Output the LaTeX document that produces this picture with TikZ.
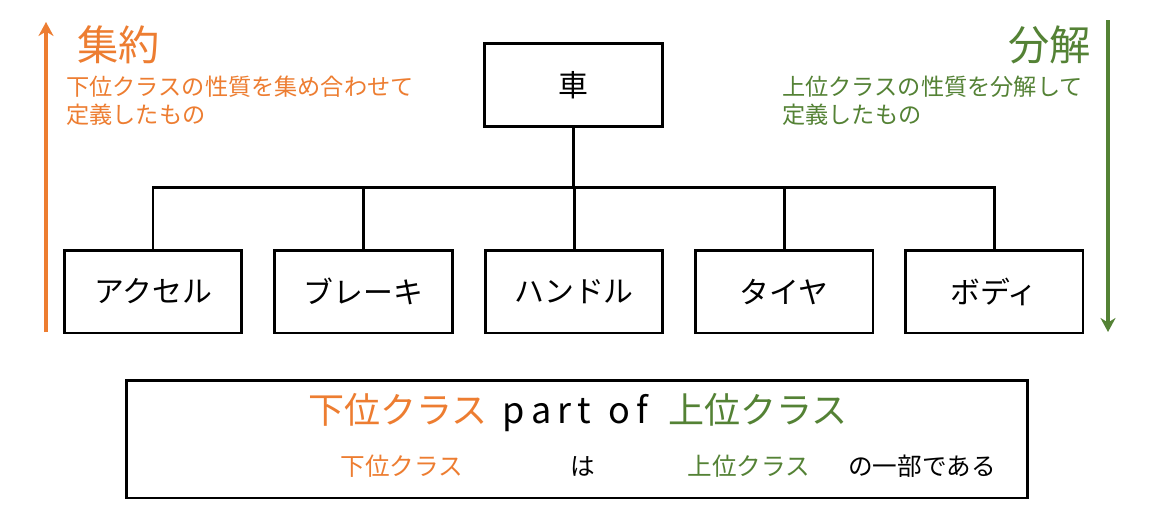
\documentclass[tikz,border=0pt]{standalone}
\usepackage{fontspec}
\setmainfont{Noto Sans CJK JP}
\usetikzlibrary{arrows.meta}
\definecolor{aggr}{HTML}{ED7D31}
\definecolor{deco}{HTML}{548235}
\tikzset{
  box/.style={draw=black, line width=1.7pt, fill=white, minimum width=3.56cm, minimum height=1.66cm, inner sep=0pt, font=\fontsize{17pt}{20pt}\selectfont},
  link/.style={draw=black, line width=1.7pt},
  bigarrow/.style={line width=1.9pt, -{Stealth[length=0.28cm, width=0.3cm]}},
  title/.style={inner sep=0pt, font=\fontsize{23.5pt}{26pt}\selectfont},
  note/.style={inner sep=0pt, align=left, font=\fontsize{13.2pt}{16pt}\selectfont},
  frame/.style={draw=black, line width=1.7pt, minimum width=18.04cm, minimum height=2.36cm, inner sep=0pt},
  big/.style={inner sep=0pt, font=\fontsize{20.5pt}{24pt}\selectfont},
  small/.style={inner sep=0pt, font=\fontsize{14pt}{17pt}\selectfont}
}
\begin{document}
\begin{tikzpicture}[x=0.02cm, y=-0.02cm]
\useasboundingbox[fill=white] (0,0) rectangle (1149,525);
% tree
\node[box] (car) at (573.5,85) {車};
\node[box] (c1) at (153,291.5) {アクセル};
\node[box] (c2) at (363.5,291.5) {ブレーキ};
\node[box] (c3) at (574,291.5) {ハンドル};
\node[box] (c4) at (784,291.5) {タイヤ};
\node[box] (c5) at (994,291.5) {ボディ};
\coordinate (bus) at (573.5,187.5);
\draw[link] (car.south) -- (car.south |- bus);
\draw[link] (c1.north) |- (bus) -| (c5.north);
\draw[link] (c2.north) -- (c2.north |- bus);
\draw[link] (c3.north) -- (c3.north |- bus);
\draw[link] (c4.north) -- (c4.north |- bus);
% left arrow
\coordinate (la0) at (46,332);
\coordinate (la1) at (46,22);
\draw[bigarrow, aggr] (la0) -- (la1);
\node[title, text=aggr, anchor=west] (lt) at (77,45) {集約};
\node[note, text=aggr, anchor=north west] (ln) at (66,76) {下位クラスの性質を集め合わせて\\定義したもの};
% right arrow
\coordinate (ra0) at (1108,20);
\coordinate (ra1) at (1108,332);
\draw[bigarrow, deco] (ra0) -- (ra1);
\node[title, text=deco, anchor=east] (rt) at (1091,45) {分解};
\node[note, text=deco, anchor=north west] (rn) at (782,76) {上位クラスの性質を分解して\\定義したもの};
% bottom frame
\node[frame] (fr) at (577,439) {};
\node[big] (l1) at (578,413) {\textcolor{aggr}{下位クラス}\hspace{0.3cm}p\,a\,r\,t\hspace{0.35cm}o\,f\hspace{0.4cm}\textcolor{deco}{上位クラス}};
\node[small, text=aggr] (s1) at (402,466) {下位クラス};
\node[small] (s2) at (583,466) {は};
\node[small, text=deco] (s3) at (749,466) {上位クラス};
\node[small] (s4) at (922,466) {の一部である};
\end{tikzpicture}
\end{document}
